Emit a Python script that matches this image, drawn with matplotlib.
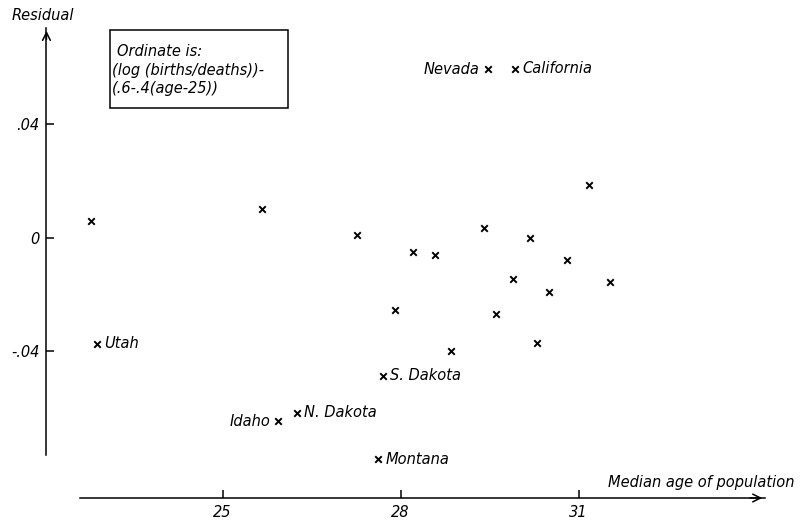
import matplotlib
matplotlib.use("Agg")
import matplotlib.pyplot as plt
from matplotlib.patches import Rectangle

# median age of population and residual of log(births/deaths)
ages = [22.78, 22.88, 25.66, 25.94, 26.25, 27.27, 27.62, 27.70, 27.90, 28.21,
        28.57, 28.84, 29.47, 29.40, 29.61, 29.93, 29.90, 30.18, 30.29, 30.50,
        30.81, 31.18, 31.52]
residuals = [0.0058, -0.0375, 0.0100, -0.0647, -0.0617, 0.0009, -0.0782, -0.0488,
             -0.0256, -0.0052, -0.0062, -0.0399, 0.0593, 0.0032, -0.0270, 0.0594,
             -0.0146, -0.0003, -0.0371, -0.0191, -0.0079, 0.0185, -0.0156]
names = ["", "Utah", "", "Idaho", "N. Dakota", "", "Montana", "S. Dakota", "", "",
         "", "", "Nevada", "", "", "California", "", "", "", "", "", "", ""]
# names written to the left of their mark
left_side = {"Idaho", "Nevada"}

xticks = [25, 28, 31]
xtick_labels = ["25", "28", "31"]
yticks = [0.04, 0.0, -0.04]
ytick_labels = [".04", "0", "-.04"]

FONT = dict(family="DejaVu Sans", style="italic", fontsize=10.5)

fig = plt.figure(figsize=(8.01, 5.22), dpi=100)
W, H = 801, 522
ax = fig.add_axes([40 / W, (H - 505) / H, 740 / W, 485 / H])
ax.set_xlim(21.921, 34.393)
ax.set_ylim(-0.09427, 0.07665)
ax.patch.set_visible(False)

x_axis_at = -0.0918
y_axis_at = 22.03
x_end = 34.14
y_end = 0.0738

ax.scatter(ages, residuals, marker="x", s=22, linewidths=1.4, color="black", zorder=3)
for a, r, n in zip(ages, residuals, names):
    if not n:
        continue
    if n in left_side:
        ax.annotate(n, (a, r), xytext=(-8, 0), textcoords="offset pixels",
                    ha="right", va="center", **FONT)
    else:
        ax.annotate(n, (a, r), xytext=(7, 0), textcoords="offset pixels",
                    ha="left", va="center", **FONT)

# hand-drawn style axes: spines that stop short, with open arrow heads
for side in ["top", "right"]:
    ax.spines[side].set_visible(False)
ax.spines["bottom"].set_position(("data", x_axis_at))
ax.spines["bottom"].set_bounds(22.6, x_end)
ax.spines["left"].set_position(("data", y_axis_at))
ax.spines["left"].set_bounds(-0.0767, y_end)
for side in ["bottom", "left"]:
    ax.spines[side].set_linewidth(1.1)
arrow = dict(arrowstyle="->", lw=1.1, color="black", mutation_scale=14)
ax.annotate("", xy=(x_end, x_axis_at), xytext=(x_end - 0.3, x_axis_at), arrowprops=arrow)
ax.annotate("", xy=(y_axis_at, y_end), xytext=(y_axis_at, y_end - 0.005), arrowprops=arrow)

ax.set_xticks(xticks)
ax.set_xticklabels(xtick_labels, **FONT)
ax.set_yticks(yticks)
ax.set_yticklabels(ytick_labels, **FONT)
ax.tick_params(axis="both", direction="in", length=6, width=1.1, pad=5)

fig.text(12 / W, 1 - 15 / H, "Residual", ha="left", va="center", **FONT)
fig.text(608 / W, 1 - 482 / H, "Median age of population", ha="left", va="center", **FONT)

# note explaining the ordinate
fig.patches.append(Rectangle((110 / W, 1 - 108 / H), 178 / W, 78 / H, fill=False,
                             lw=1.1, edgecolor="black", transform=fig.transFigure))
fig.text(117 / W, 1 - 52 / H, "Ordinate is:", ha="left", va="center", **FONT)
fig.text(112 / W, 1 - 71 / H, "(log (births/deaths))-", ha="left", va="center", **FONT)
fig.text(112 / W, 1 - 88 / H, "(.6-.4(age-25))", ha="left", va="center", **FONT)

fig.savefig("out.png", dpi=100)
